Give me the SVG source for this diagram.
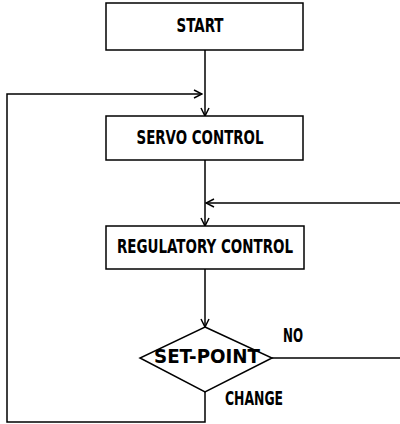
<svg xmlns="http://www.w3.org/2000/svg" width="400" height="424" viewBox="0 0 400 424">
<style>
.box{fill:#fff;stroke:#000;stroke-width:1.5}
.ln{fill:none;stroke:#000;stroke-width:1.5}
.t{font-family:"DejaVu Sans Condensed","Liberation Sans",sans-serif;font-weight:bold;font-size:19px;fill:#000}
.c{text-anchor:middle}
</style>
<defs>
<marker id="ah" viewBox="0 0 10 10" refX="9" refY="5" markerWidth="10" markerHeight="10" markerUnits="userSpaceOnUse" orient="auto">
<polyline points="1,1 9,5 1,9" fill="none" stroke="#000" stroke-width="1.5"/>
</marker>
</defs>
<rect width="400" height="424" fill="#fff"/>
<g id="connectors">
<line class="ln" x1="205" y1="50" x2="205" y2="116" marker-end="url(#ah)"/>
<polyline class="ln" points="205,392 205,422 7,422 7,94 202,94" marker-end="url(#ah)"/>
<line class="ln" x1="205" y1="160" x2="205" y2="226" marker-end="url(#ah)"/>
<polyline class="ln" points="272,358 400,358"/>
<line class="ln" x1="400" y1="203" x2="206" y2="203" marker-end="url(#ah)"/>
<line class="ln" x1="205" y1="269" x2="205" y2="327" marker-end="url(#ah)"/>
</g>
<g id="start">
<rect class="box" x="106" y="3" width="197" height="47"/>
<text class="t c" x="200" y="32" textLength="47" lengthAdjust="spacingAndGlyphs">START</text>
</g>
<g id="servo">
<rect class="box" x="106" y="116" width="197" height="44"/>
<text class="t c" x="200" y="144" textLength="127" lengthAdjust="spacingAndGlyphs">SERVO CONTROL</text>
</g>
<g id="regulatory">
<rect class="box" x="106" y="226" width="198" height="43"/>
<text class="t c" x="205" y="253" textLength="176" lengthAdjust="spacingAndGlyphs">REGULATORY CONTROL</text>
</g>
<g id="setpoint">
<polygon class="box" points="205,327 272,358 205,392 140,358"/>
<text class="t c" x="207" y="363" textLength="106" lengthAdjust="spacingAndGlyphs">SET-POINT</text>
</g>
<g id="labels">
<text class="t" x="283" y="342" textLength="20" lengthAdjust="spacingAndGlyphs">NO</text>
<text class="t" x="225" y="405" textLength="58" lengthAdjust="spacingAndGlyphs">CHANGE</text>
</g>
</svg>
